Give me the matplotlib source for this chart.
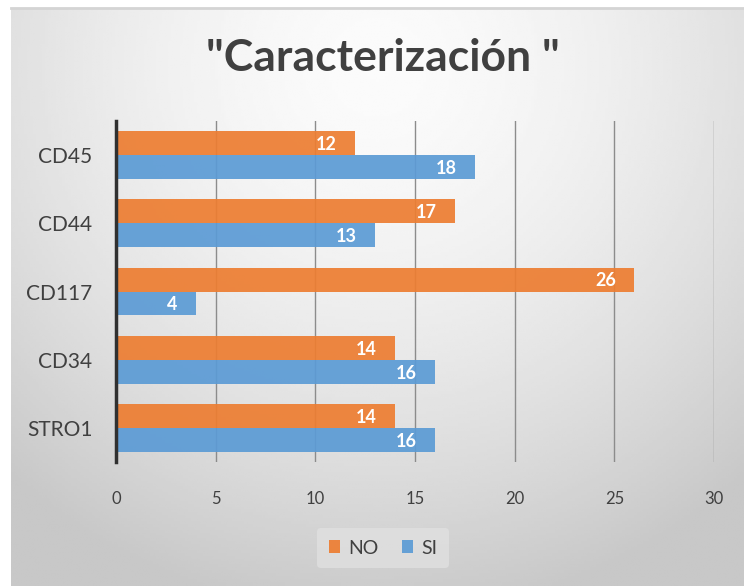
import numpy as np
import matplotlib.pyplot as plt

categories = ['CD45', 'CD44', 'CD117', 'CD34', 'STRO1']
no_vals = [12, 17, 26, 14, 14]
si_vals = [18, 13, 4, 16, 16]
xticks = [0, 5, 10, 15, 20, 25, 30]

plt.rcParams['font.family'] = ['Lato', 'DejaVu Sans']

W, H = 744, 586
fig = plt.figure(figsize=(W / 100, H / 100), dpi=100)

# radial gradient background of the chart area
bg = fig.add_axes([11 / W, 0, 1 - 11 / W, 1 - 8 / H])
yy, xx = np.mgrid[0:1:200j, 0:1:250j]
r = np.sqrt(((xx - 0.5) / 0.75) ** 2 + ((yy - 0.1) / 0.95) ** 2)
shade = 0.985 - 0.2 * np.clip(r, 0, 1) ** 1.6
bg.imshow(shade, cmap='gray', vmin=0, vmax=1, aspect='auto', extent=[0, 1, 0, 1], origin='upper')
bg.set_axis_off()
fig.add_artist(plt.Line2D([11 / W, 1], [1 - 8 / H, 1 - 8 / H], color='#d4d4d4', lw=2))

ax = fig.add_axes([116 / W, 1 - 462 / H, (714 - 116) / W, (462 - 121) / H])
ax.patch.set_alpha(0)

y = np.arange(len(categories))[::-1]
h = 0.35
b1 = ax.barh(y + h / 2, no_vals, height=h, color='#ED7D31', alpha=0.92, label='NO', zorder=3)
b2 = ax.barh(y - h / 2, si_vals, height=h, color='#5B9BD5', alpha=0.92, label='SI', zorder=3)
for vals, off in ((no_vals, h / 2), (si_vals, -h / 2)):
    for yi, v in zip(y, vals):
        ax.annotate(str(v), (v, yi + off), xytext=(-13, -1), textcoords='offset points',
                    ha='right', va='center', color='white', fontsize=13,
                    fontweight='bold', zorder=4)

ax.set_xlim(0, 30)
ax.set_ylim(-0.5, len(categories) - 0.5)
ax.set_xticks(xticks)
ax.set_yticks(y)
ax.set_yticklabels(categories)
ax.tick_params(axis='x', length=0, labelsize=12, labelcolor='#404040', pad=21)
ax.tick_params(axis='y', length=0, labelsize=15, labelcolor='#404040', pad=17)
ax.grid(axis='x', color='#8c8c8c', lw=1, zorder=1)
for s in ['top', 'right', 'bottom']:
    ax.spines[s].set_visible(False)
ax.spines['left'].set_color('#303030')
ax.spines['left'].set_linewidth(2.5)
ax.spines['left'].set_zorder(5)

fig.text(383 / W, 1 - 58 / H, '"Caracterización "', ha='center', va='center',
         fontsize=32, fontweight='bold', color='#404040')

leg = fig.legend(handles=[b1, b2], loc='center', bbox_to_anchor=(383 / W, 1 - 548 / H),
                 ncol=2, frameon=True, fontsize=14, handlelength=0.6, handleheight=0.6,
                 handletextpad=0.4, columnspacing=1.2, borderpad=0.6)
leg.get_frame().set_facecolor('#e0e0e0')
leg.get_frame().set_edgecolor('none')
leg.get_frame().set_alpha(0.8)
for t in leg.get_texts():
    t.set_color('#404040')

fig.savefig('out.png', dpi=100)
